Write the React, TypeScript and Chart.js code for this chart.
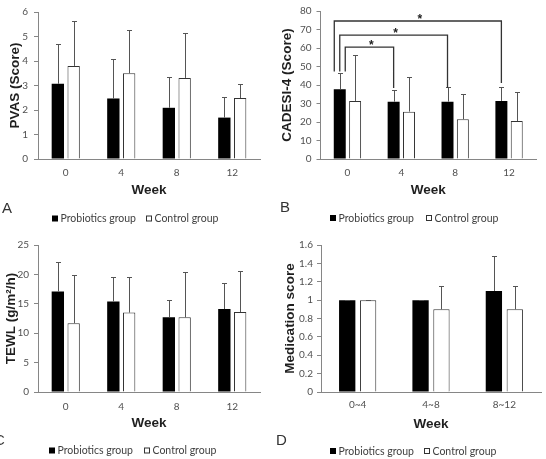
import React, { useEffect, useRef } from 'react';
import { Chart, registerables } from 'chart.js';

Chart.register(...registerables);

// ---------------- data ----------------
const weekLabels = ['0', '4', '8', '12'];
const medLabels = ['0~4', '4~8', '8~12'];
const seriesNames = ['Probiotics group', 'Control group'];

const pvasProb = [3.07, 2.47, 2.09, 1.69];
const pvasProbSD = [1.62, 1.62, 1.25, 0.85];
const pvasCtrl = [3.8, 3.5, 3.31, 2.49];
const pvasCtrlSD = [1.84, 1.76, 1.83, 0.58];

const cadesiProb = [37.7, 31.0, 31.0, 31.4];
const cadesiProbSD = [8.6, 6.3, 7.7, 7.3];
const cadesiCtrl = [31.4, 25.6, 21.5, 20.5];
const cadesiCtrlSD = [24.8, 18.5, 13.8, 15.7];

const tewlProb = [17.1, 15.4, 12.7, 14.1];
const tewlProbSD = [4.96, 4.2, 2.9, 4.5];
const tewlCtrl = [11.7, 13.5, 12.7, 13.6];
const tewlCtrlSD = [8.2, 6.0, 7.7, 6.9];

const medProb = [1.0, 1.0, 1.1];
const medProbSD = [0, 0, 0.38];
const medCtrl = [1.0, 0.9, 0.9];
const medCtrlSD = [0, 0.25, 0.25];

// significance brackets in panel B (week 0 vs week 4 / 8 / 12)
const cadesiBracketTo = [1, 2, 3];
const cadesiBracketY = [60.5, 67, 74.6];
const cadesiBracketLeftEnd = 47.3;
const cadesiBracketRightEnd = [38.4, 38.4, 41.1];
const cadesiBracketMark = ['*', '*', '*'];

// ---------------- panels ----------------
type Spec = {
  left: number; top: number; width: number; height: number;
  labels: string[]; prob: number[]; probSD: number[]; ctrl: number[]; ctrlSD: number[];
  yMax: number; yStep: number; yTitle: string; letter: string;
  pad: { left: number; right: number; top: number; bottom: number };
  yWidth: number; xHeight: number; yTitlePad: number; xTickPad: number; yTickPad: number;
  legendY: number; legendX: number[]; letterX: number; letterY: number;
  brackets?: boolean;
};

const specs: Spec[] = [
  {
    left: 0, top: 0, width: 273, height: 230,
    labels: weekLabels, prob: pvasProb, probSD: pvasProbSD, ctrl: pvasCtrl, ctrlSD: pvasCtrlSD,
    yMax: 6, yStep: 1, yTitle: 'PVAS (Score)', letter: 'A',
    pad: { left: 0, right: 13, top: 11, bottom: 32 },
    yWidth: 38, xHeight: 39, yTitlePad: 7, xTickPad: 8, yTickPad: 6,
    legendY: 218.5, legendX: [52, 146], letterX: 2, letterY: 213,
  },
  {
    left: 273, top: 0, width: 273, height: 230,
    labels: weekLabels, prob: cadesiProb, probSD: cadesiProbSD, ctrl: cadesiCtrl, ctrlSD: cadesiCtrlSD,
    yMax: 80, yStep: 10, yTitle: 'CADESI-4 (Score)', letter: 'B',
    pad: { left: 0, right: 10, top: 11, bottom: 32 },
    yWidth: 47.5, xHeight: 39, yTitlePad: 6, xTickPad: 8, yTickPad: 5,
    legendY: 218, legendX: [57, 153], letterX: 7, letterY: 212,
    brackets: true,
  },
  {
    left: 0, top: 230, width: 273, height: 229,
    labels: weekLabels, prob: tewlProb, probSD: tewlProbSD, ctrl: tewlCtrl, ctrlSD: tewlCtrlSD,
    yMax: 25, yStep: 5, yTitle: 'TEWL (g/m²/h)', letter: 'C',
    pad: { left: 0, right: 13, top: 15, bottom: 28 },
    yWidth: 38, xHeight: 39, yTitlePad: 3, xTickPad: 9, yTickPad: 5,
    legendY: 220.5, legendX: [49, 144], letterX: -6, letterY: 215,
  },
  {
    left: 273, top: 230, width: 273, height: 229,
    labels: medLabels, prob: medProb, probSD: medProbSD, ctrl: medCtrl, ctrlSD: medCtrlSD,
    yMax: 1.6, yStep: 0.2, yTitle: 'Medication score', letter: 'D',
    pad: { left: 0, right: 5, top: 15, bottom: 27 },
    yWidth: 48, xHeight: 40, yTitlePad: 9, xTickPad: 7, yTickPad: 4,
    legendY: 221, legendX: [57, 151], letterX: 3, letterY: 215,
  },
];

const AXIS = '#868686';
const TICK_TEXT = '#505050';
const TITLE_TEXT = '#1f1f1f';
const ERR = '#555555';
const TITLE_FONT = { family: '"Liberation Sans", Arial, sans-serif', size: 13.5, weight: 'bold' };

function Panel({ spec }: { spec: Spec }) {
  const ref = useRef<HTMLCanvasElement | null>(null);

  useEffect(() => {
    const canvas = ref.current;
    if (!canvas) return;

    const errorBars = {
      id: 'errorBars',
      afterDatasetsDraw(chart: any) {
        const ctx = chart.ctx;
        const ys = chart.scales.y;
        const sets: [number[], number[]][] = [[spec.prob, spec.probSD], [spec.ctrl, spec.ctrlSD]];
        ctx.save();
        ctx.strokeStyle = ERR;
        ctx.lineWidth = 1;
        sets.forEach(([vals, sds], di) => {
          const meta = chart.getDatasetMeta(di);
          meta.data.forEach((bar: any, j: number) => {
            const x = Math.round(bar.x) + 0.5;
            const y0 = ys.getPixelForValue(vals[j]);
            const y1 = Math.round(ys.getPixelForValue(vals[j] + sds[j])) + 0.5;
            ctx.beginPath();
            ctx.moveTo(x, y0);
            ctx.lineTo(x, y1);
            ctx.moveTo(x - 2.5, y1);
            ctx.lineTo(x + 2.5, y1);
            ctx.stroke();
          });
        });
        ctx.restore();
      },
    };

    const brackets = {
      id: 'brackets',
      afterDatasetsDraw(chart: any) {
        if (!spec.brackets) return;
        const ctx = chart.ctx;
        const ys = chart.scales.y;
        const meta = chart.getDatasetMeta(0);
        const b0 = meta.data[0] as any;
        const n = cadesiBracketTo.length;
        ctx.save();
        ctx.strokeStyle = '#333333';
        ctx.lineWidth = 1.3;
        ctx.fillStyle = '#222222';
        ctx.font = 'bold 12px "Liberation Sans", Arial, sans-serif';
        ctx.textAlign = 'center';
        ctx.textBaseline = 'alphabetic';
        cadesiBracketTo.forEach((to, k) => {
          const frac = n === 1 ? 0 : 1 - (2 * k) / (n - 1);
          const xl = b0.x + frac * (b0.width / 2 - 0.5);
          const br = meta.data[to] as any;
          const xr = br.x;
          const yh = ys.getPixelForValue(cadesiBracketY[k]);
          const yl = ys.getPixelForValue(cadesiBracketLeftEnd);
          const yr = ys.getPixelForValue(cadesiBracketRightEnd[k]);
          ctx.beginPath();
          ctx.moveTo(xl, yl);
          ctx.lineTo(xl, yh);
          ctx.lineTo(xr, yh);
          ctx.lineTo(xr, yr);
          ctx.stroke();
          ctx.fillText(cadesiBracketMark[k], (xl + xr) / 2 + 2, yh + 2);
        });
        ctx.restore();
      },
    };

    const legendAndLetter = {
      id: 'legendAndLetter',
      afterDraw(chart: any) {
        const ctx = chart.ctx;
        ctx.save();
        ctx.fillStyle = '#333333';
        ctx.font = '15px "Liberation Sans", Arial, sans-serif';
        ctx.textAlign = 'left';
        ctx.textBaseline = 'alphabetic';
        ctx.fillText(spec.letter, spec.letterX, spec.letterY);
        ctx.font = '10.5px Lato, "Liberation Sans", sans-serif';
        ctx.textBaseline = 'middle';
        chart.data.datasets.forEach((ds: any, i: number) => {
          const x = spec.legendX[i];
          const y = spec.legendY;
          ctx.fillStyle = ds.backgroundColor;
          ctx.fillRect(x, y - 3, 6, 6);
          if (i === 1) {
            ctx.strokeStyle = '#333333';
            ctx.lineWidth = 1;
            ctx.strokeRect(x + 0.5, y - 2.5, 5, 5);
          }
          ctx.fillStyle = '#404040';
          ctx.fillText(ds.label, x + 8.5, y + 0.5);
        });
        ctx.restore();
      },
    };

    const chart = new Chart(canvas, {
      type: 'bar',
      data: {
        labels: spec.labels,
        datasets: [
          {
            label: seriesNames[0],
            data: spec.prob,
            backgroundColor: '#000000',
            borderWidth: 0,
            categoryPercentage: 0.57,
            barPercentage: 0.78,
          },
          {
            label: seriesNames[1],
            data: spec.ctrl,
            backgroundColor: '#ffffff',
            borderColor: '#333333',
            borderWidth: 1,
            categoryPercentage: 0.57,
            barPercentage: 0.78,
          },
        ],
      },
      options: {
        responsive: false,
        animation: false,
        devicePixelRatio: 1,
        layout: { padding: spec.pad },
        plugins: { legend: { display: false }, tooltip: { enabled: false } },
        scales: {
          x: {
            offset: true,
            grid: { display: false, drawTicks: false },
            border: { display: true, color: AXIS, width: 1 },
            ticks: {
              padding: spec.xTickPad,
              color: TICK_TEXT,
              font: { family: 'Lato', size: 10 },
              maxRotation: 0,
              autoSkip: false,
            },
            title: {
              display: true,
              text: 'Week',
              color: TITLE_TEXT,
              font: TITLE_FONT,
              padding: { top: 0, bottom: 0 },
            },
            afterFit: (s: any) => { s.height = spec.xHeight; },
          },
          y: {
            min: 0,
            max: spec.yMax,
            grid: { drawOnChartArea: false, drawTicks: true, tickLength: 4, color: AXIS },
            border: { display: true, color: AXIS, width: 1 },
            ticks: {
              stepSize: spec.yStep,
              padding: spec.yTickPad,
              color: TICK_TEXT,
              font: { family: 'Lato', size: 10 },
              callback: (v: any) => String(Math.round(Number(v) * 10) / 10),
            },
            title: {
              display: true,
              text: spec.yTitle,
              color: TITLE_TEXT,
              font: TITLE_FONT,
              padding: { top: spec.yTitlePad, bottom: 0 },
            },
            afterFit: (s: any) => { s.width = spec.yWidth; },
          },
        },
      } as any,
      plugins: [errorBars, brackets, legendAndLetter],
    });

    return () => chart.destroy();
  }, [spec]);

  return (
    <canvas
      ref={ref}
      width={spec.width}
      height={spec.height}
      style={{
        position: 'absolute',
        left: spec.left,
        top: spec.top,
        width: spec.width,
        height: spec.height,
        display: 'block',
      }}
    />
  );
}

export default function App() {
  return (
    <div
      style={{
        position: 'absolute',
        left: 0,
        top: 0,
        width: 546,
        height: 459,
        background: '#ffffff',
        overflow: 'hidden',
      }}
    >
      {specs.map((s) => (
        <Panel key={s.letter} spec={s} />
      ))}
    </div>
  );
}
